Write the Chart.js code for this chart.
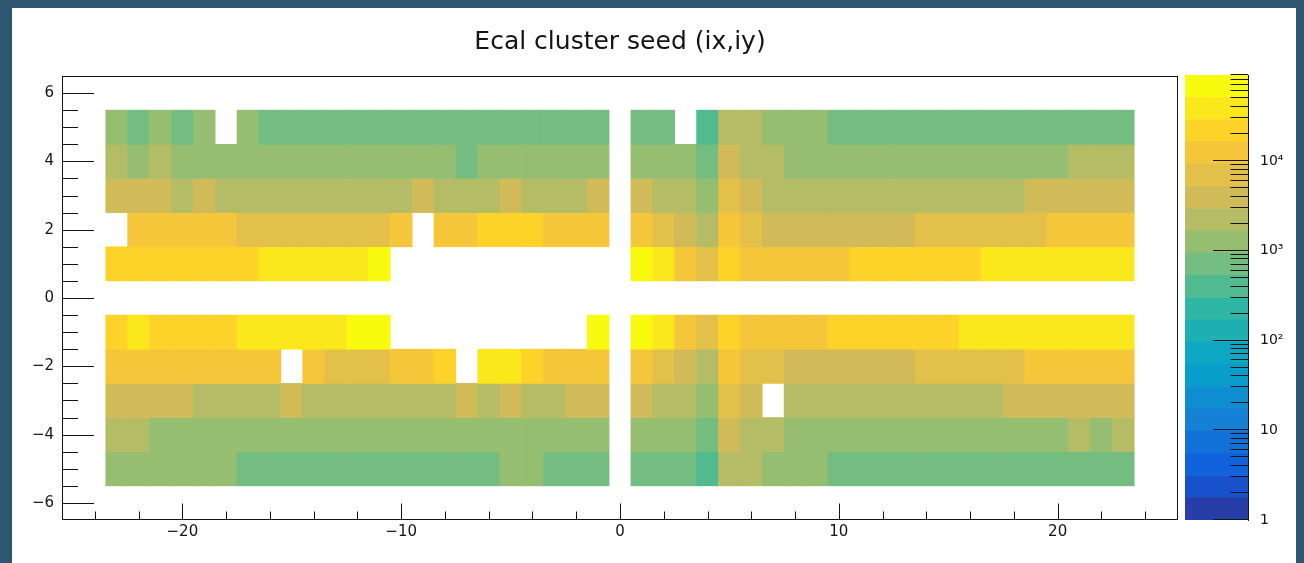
<!DOCTYPE html>
<html>
<head>
<meta charset="utf-8">
<title>Ecal cluster seed (ix,iy)</title>
<script src="https://cdn.jsdelivr.net/npm/chart.js@4.4.1/dist/chart.umd.min.js"></script>
<style>
  html, body { margin: 0; padding: 0; }
  body { width: 1304px; height: 563px; background: #2f5671; position: relative; overflow: hidden; }
  #panel { position: absolute; left: 12px; top: 8px; width: 1284px; height: 555px; background: #ffffff; }
  #map { position: absolute; left: 0; top: 0; }
  #zbar { position: absolute; left: 1170px; top: 0; }
</style>
</head>
<body>
<div id="panel"></div>
<canvas id="map" width="1240" height="563"></canvas>
<canvas id="zbar" width="134" height="563"></canvas>
<script>
// ---- histogram binning ----
const ixBins = [-23, -22, -21, -20, -19, -18, -17, -16, -15, -14, -13, -12, -11, -10, -9, -8, -7, -6, -5, -4, -3, -2, -1,
                1, 2, 3, 4, 5, 6, 7, 8, 9, 10, 11, 12, 13, 14, 15, 16, 17, 18, 19, 20, 21, 22, 23];
const iyBins = [5, 4, 3, 2, 1, -1, -2, -3, -4, -5];

// ---- seed counts per crystal row (ix order as ixBins, null = no entries) ----
const seedsIy5 = [
  1300, 700, 1300, 700, 1300, null, 1300,
  700, 700, 700, 700, 700, 700, 700, 700,
  700, 700, 700, 700, 700, 700, 700, 700,
  700, 700, null, 400, 2200, 2200, 1300, 1300, 1300,
  700, 700, 700, 700, 700, 700, 700,
  700, 700, 700, 700, 700, 700, 700];
const seedsIy4 = [
  2200, 1300, 2200,
  1300, 1300, 1300, 1300, 1300, 1300, 1300,
  1300, 1300, 1300, 1300, 1300, 1300,
  700,
  1300, 1300, 1300, 1300, 1300, 1300,
  1300, 1300, 1300, 700, 4000, 2200, 2200,
  1300, 1300, 1300, 1300, 1300, 1300, 1300,
  1300, 1300, 1300, 1300, 1300, 1300,
  2200, 2200, 2200];
const seedsIy3 = [
  4000, 4000, 4000, 2200, 4000,
  2200, 2200, 2200, 2200, 2200, 2200, 2200, 2200, 2200,
  4000,
  2200, 2200, 2200,
  4000,
  2200, 2200, 2200,
  4000,
  4000, 2200, 2200, 1300, 7000, 4000,
  2200, 2200, 2200, 2200, 2200, 2200,
  2200, 2200, 2200, 2200, 2200, 2200,
  4000, 4000, 4000, 4000, 4000];
const seedsIy2 = [
  null,
  12000, 12000, 12000, 12000, 12000,
  7000, 7000, 7000, 7000, 7000, 7000, 7000,
  12000, null, 12000, 12000,
  22000, 22000, 22000,
  12000, 12000, 12000,
  12000, 7000, 4000, 2200, 12000, 7000,
  4000, 4000, 4000, 4000, 4000, 4000, 4000,
  7000, 7000, 7000, 7000, 7000, 7000,
  12000, 12000, 12000, 12000];
const seedsIy1 = [
  22000, 22000, 22000, 22000, 22000, 22000, 22000,
  38000, 38000, 38000, 38000, 38000,
  68000,
  null, null, null, null, null, null, null, null, null, null,
  68000, 38000, 12000, 7000, 22000,
  12000, 12000, 12000, 12000, 12000,
  22000, 22000, 22000, 22000, 22000, 22000,
  38000, 38000, 38000, 38000, 38000, 38000, 38000];
const seedsIyM1 = [
  22000, 38000,
  22000, 22000, 22000, 22000,
  38000, 38000, 38000, 38000, 38000,
  68000, 68000,
  null, null, null, null, null, null, null, null, null,
  68000,
  68000, 38000, 12000, 7000, 22000,
  12000, 12000, 12000, 12000,
  22000, 22000, 22000, 22000, 22000, 22000,
  38000, 38000, 38000, 38000, 38000, 38000, 38000, 38000];
const seedsIyM2 = [
  12000, 12000, 12000, 12000, 12000, 12000, 12000, 12000,
  null, 12000,
  7000, 7000, 7000,
  12000, 12000, 22000, null, 38000, 38000, 22000,
  12000, 12000, 12000,
  12000, 7000, 4000, 2200, 12000, 7000, 7000,
  4000, 4000, 4000, 4000, 4000, 4000,
  7000, 7000, 7000, 7000, 7000,
  12000, 12000, 12000, 12000, 12000];
const seedsIyM3 = [
  4000, 4000, 4000, 4000,
  2200, 2200, 2200, 2200,
  4000,
  2200, 2200, 2200, 2200, 2200, 2200, 2200,
  4000, 2200, 4000, 2200, 2200, 4000, 4000,
  4000, 2200, 2200, 1300, 7000, 4000, null,
  2200, 2200, 2200, 2200, 2200, 2200, 2200, 2200, 2200, 2200,
  4000, 4000, 4000, 4000, 4000, 4000];
const seedsIyM4 = [
  2200, 2200,
  1300, 1300, 1300, 1300, 1300, 1300, 1300,
  1300, 1300, 1300, 1300, 1300, 1300, 1300,
  1300, 1300, 1300, 1300, 1300, 1300, 1300,
  1300, 1300, 1300, 700, 4000, 2200, 2200,
  1300, 1300, 1300, 1300, 1300, 1300, 1300,
  1300, 1300, 1300, 1300, 1300, 1300,
  2200, 1300, 2200];
const seedsIyM5 = [
  1300, 1300, 1300, 1300, 1300, 1300,
  700, 700, 700, 700, 700, 700,
  700, 700, 700, 700, 700, 700,
  1300, 1300,
  700, 700, 700,
  700, 700, 700, 400, 2200, 2200, 1300, 1300, 1300,
  700, 700, 700, 700, 700, 700, 700,
  700, 700, 700, 700, 700, 700, 700];

// ---- axis labels ----
const xLabelValues = [-20, -10, 0, 10, 20];
const yLabelValues = [-6, -4, -2, 0, 2, 4, 6];
const zLabelValues = [1, 10, 100, 1000, 10000];
const zLabels = ['1', '10', '10\u00B2', '10\u00B3', '10\u2074'];

const titleText = 'Ecal cluster seed (ix,iy)';

// ---- colour scale: log z, 20 contour bands over the "bird" palette ----
const Z_MIN = 1;
const Z_MAX = 91000;
const N_BANDS = 20;
const birdStops = [0.0, 0.125, 0.25, 0.375, 0.5, 0.625, 0.75, 0.875, 1.0];
const birdR = [0.2082, 0.0592, 0.0780, 0.0232, 0.1802, 0.5301, 0.8186, 0.9956, 0.9764];
const birdG = [0.1664, 0.3599, 0.5041, 0.6419, 0.7178, 0.7492, 0.7328, 0.7862, 0.9832];
const birdB = [0.5293, 0.8684, 0.8385, 0.7914, 0.6425, 0.4662, 0.3499, 0.1968, 0.0539];

function birdColour(f) {
  let s = 1;
  while (s < birdStops.length - 1 && f > birdStops[s]) s++;
  const t = (f - birdStops[s - 1]) / (birdStops[s] - birdStops[s - 1]);
  const mix = (arr) => Math.round(255 * (arr[s - 1] + t * (arr[s] - arr[s - 1])));
  return `rgb(${mix(birdR)},${mix(birdG)},${mix(birdB)})`;
}
const logSpan = Math.log10(Z_MAX) - Math.log10(Z_MIN);
function bandOf(v) {
  const k = Math.floor((Math.log10(v) - Math.log10(Z_MIN)) / logSpan * N_BANDS);
  return Math.max(0, Math.min(N_BANDS - 1, k));
}
function bandColour(k) {
  const idx = Math.floor((k + 0.99) * 255 / N_BANDS);
  return birdColour(Math.min(idx, 254) / 254);
}
function bandEdge(k) {
  return Math.pow(10, Math.log10(Z_MIN) + logSpan * k / N_BANDS);
}

const fmt = (v) => (v < 0 ? '\u2212' + (-v) : String(v));
const FONT = 'DejaVu Sans';
const INK = '#141414';

// ---- one bar dataset per iy row; each cell is a floating bar [iy-0.5, iy+0.5] ----
const seedRows = [seedsIy5, seedsIy4, seedsIy3, seedsIy2, seedsIy1,
                  seedsIyM1, seedsIyM2, seedsIyM3, seedsIyM4, seedsIyM5];
const cellDatasets = iyBins.map((iy, r) => {
  const data = [];
  const colours = [];
  seedRows[r].forEach((v, c) => {
    if (v === null) return;
    data.push({ x: ixBins[c], y: [iy - 0.5, iy + 0.5], v });
    colours.push(bandColour(bandOf(v)));
  });
  return {
    label: 'iy = ' + iy,
    data,
    backgroundColor: colours,
    borderWidth: 0,
    grouped: false,
    barPercentage: 1,
    categoryPercentage: 1
  };
});

// frame and inward tick marks in the style of a physics histogram
const frameTicks = {
  id: 'frameTicks',
  afterDatasetsDraw(chart) {
    const { ctx, chartArea: a, scales } = chart;
    const x = scales.x, y = scales.y;
    ctx.save();
    ctx.strokeStyle = INK;
    ctx.lineWidth = 1;
    ctx.beginPath();
    for (const t of x.ticks) {
      if (t.value <= x.min || t.value >= x.max) continue;
      const px = Math.round(x.getPixelForValue(t.value)) + 0.5;
      const len = t.value % 10 === 0 ? 16.5 : 8.5;
      ctx.moveTo(px, a.bottom);
      ctx.lineTo(px, a.bottom - len);
    }
    for (const t of y.ticks) {
      if (t.value <= y.min || t.value >= y.max) continue;
      const py = Math.round(y.getPixelForValue(t.value)) + 0.5;
      const len = t.value % 2 === 0 ? 32 : 16;
      ctx.moveTo(a.left, py);
      ctx.lineTo(a.left + len, py);
    }
    ctx.stroke();
    ctx.strokeRect(Math.round(a.left) + 0.5, Math.round(a.top) + 0.5,
                   Math.round(a.right - a.left) - 1, Math.round(a.bottom - a.top) - 1);
    ctx.restore();
  }
};

new Chart(document.getElementById('map'), {
  type: 'bar',
  data: { datasets: cellDatasets },
  options: {
    responsive: false,
    animation: false,
    layout: { padding: 0 },
    plugins: {
      legend: { display: false },
      tooltip: { enabled: false },
      title: {
        display: true,
        text: titleText,
        color: INK,
        font: { family: FONT, size: 25, weight: 'normal', lineHeight: 1.2 },
        padding: { top: 27, bottom: 19 }
      }
    },
    scales: {
      x: {
        type: 'linear',
        min: -25.5,
        max: 25.5,
        offset: false,
        grid: { display: false, drawTicks: false },
        border: { display: false },
        ticks: {
          stepSize: 2,
          includeBounds: false,
          autoSkip: false,
          maxRotation: 0,
          padding: 3,
          color: INK,
          font: { family: FONT, size: 15 },
          callback: (v) => (xLabelValues.includes(v) ? fmt(v) : '')
        },
        afterFit: (s) => { s.height = 43; }
      },
      y: {
        type: 'linear',
        min: -6.5,
        max: 6.5,
        grid: { display: false, drawTicks: false },
        border: { display: false },
        ticks: {
          stepSize: 0.5,
          autoSkip: false,
          padding: 8,
          color: INK,
          font: { family: FONT, size: 15 },
          callback: (v) => (yLabelValues.includes(v) ? fmt(v) : '')
        },
        afterFit: (s) => { s.width = 62; }
      },
      gutter: {
        type: 'linear',
        position: 'right',
        grid: { display: false, drawTicks: false },
        border: { display: false },
        ticks: { display: false },
        afterFit: (s) => { s.width = 62; }
      }
    }
  },
  plugins: [frameTicks]
});

// ---- colour bar: one floating bar per contour band on a log axis ----
const zTickValues = [];
for (let d = 0; d <= 4; d++) {
  for (let m = 1; m <= 9; m++) {
    const v = m * Math.pow(10, d);
    if (v <= Z_MAX) zTickValues.push(v);
  }
}
const bandDatasets = [];
for (let k = 0; k < N_BANDS; k++) {
  bandDatasets.push({
    label: 'band ' + k,
    data: [[bandEdge(k), bandEdge(k + 1)]],
    backgroundColor: bandColour(k),
    borderWidth: 0,
    grouped: false,
    barPercentage: 1,
    categoryPercentage: 1
  });
}

const paletteTicks = {
  id: 'paletteTicks',
  afterDatasetsDraw(chart) {
    const { ctx, chartArea: a, scales } = chart;
    const z = scales.y;
    ctx.save();
    ctx.strokeStyle = INK;
    ctx.lineWidth = 1;
    ctx.beginPath();
    for (const t of z.ticks) {
      const py = Math.round(z.getPixelForValue(t.value)) - 0.5;
      const len = zLabelValues.includes(t.value) ? 35 : 17.5;
      ctx.moveTo(a.right, py);
      ctx.lineTo(a.right - len, py);
    }
    ctx.stroke();
    ctx.restore();
  }
};

new Chart(document.getElementById('zbar'), {
  type: 'bar',
  data: { labels: [''], datasets: bandDatasets },
  options: {
    responsive: false,
    animation: false,
    layout: { padding: { left: 15, top: 75, bottom: 43, right: 0 } },
    plugins: {
      legend: { display: false },
      tooltip: { enabled: false },
      title: { display: false }
    },
    scales: {
      x: { display: false },
      y: {
        type: 'logarithmic',
        position: 'right',
        min: Z_MIN,
        max: Z_MAX,
        grid: { display: false, drawTicks: false },
        border: { display: true, color: INK, width: 1 },
        ticks: {
          autoSkip: false,
          padding: 12,
          color: INK,
          font: { family: FONT, size: 14 },
          callback: (v) => {
            const i = zLabelValues.indexOf(v);
            return i >= 0 ? zLabels[i] : '';
          }
        },
        afterBuildTicks: (s) => { s.ticks = zTickValues.map((v) => ({ value: v })); },
        afterFit: (s) => { s.width = 56; }
      }
    }
  },
  plugins: [paletteTicks]
});
</script>
</body>
</html>
